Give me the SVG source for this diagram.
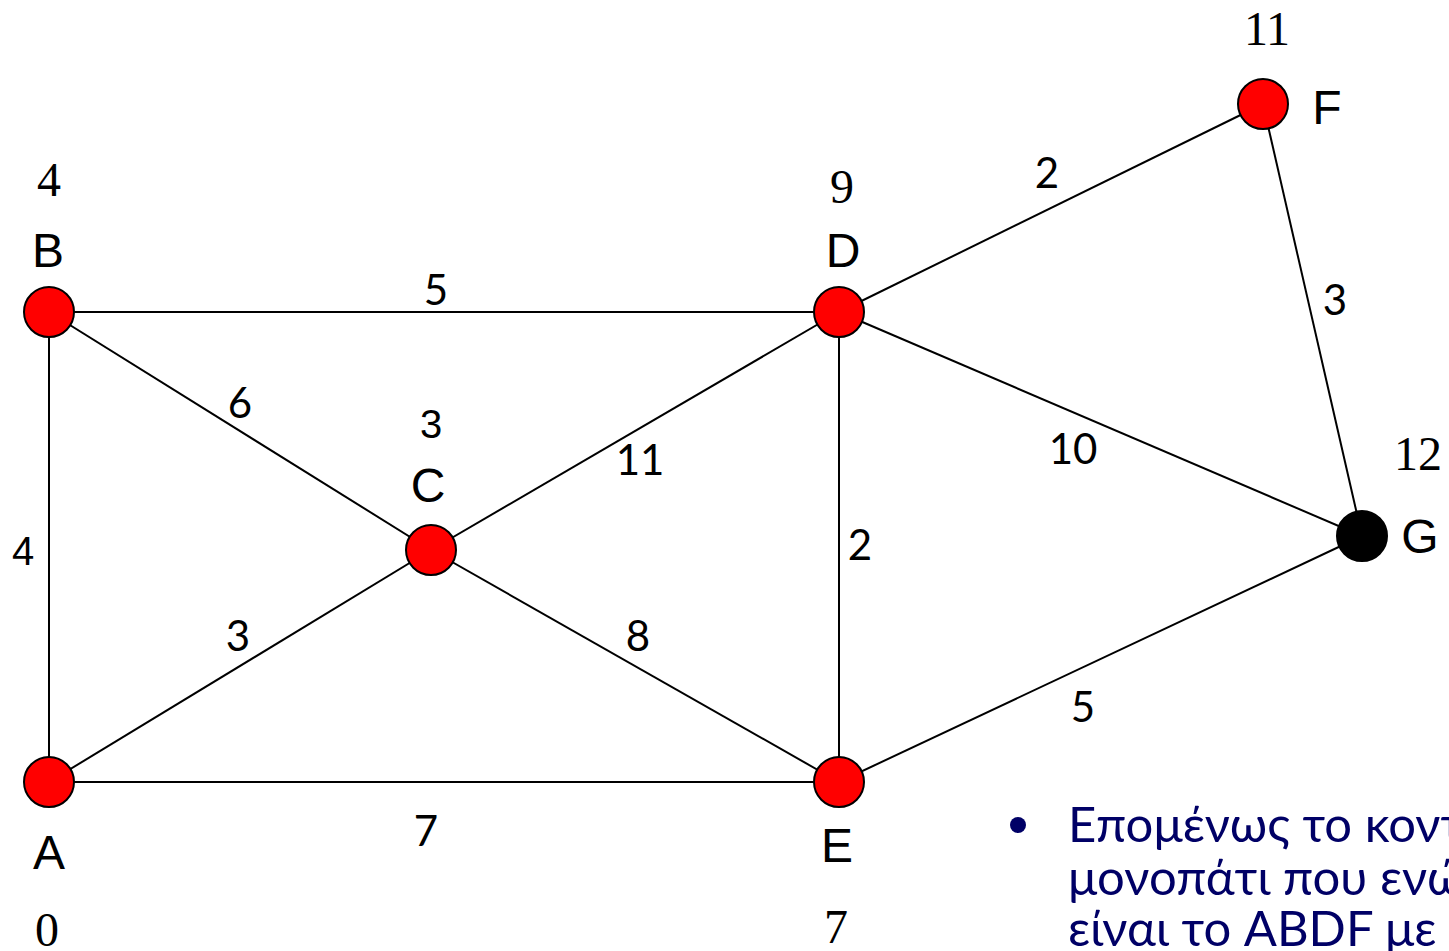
<svg xmlns="http://www.w3.org/2000/svg" width="1449" height="951" viewBox="0 0 1449 951">
<style>
.edge{stroke:#000;stroke-width:2;fill:none}
.node{fill:#ff0000;stroke:#000;stroke-width:2}
.goal{fill:#000;stroke:#000;stroke-width:2}
.name{font-family:"Liberation Sans",Arial,sans-serif;font-size:48px;text-anchor:middle;fill:#000}
.dist{font-family:"Liberation Serif","Times New Roman",serif;font-size:48px;text-anchor:middle;fill:#000}
.w{font-family:Lato,"Open Sans",sans-serif;font-size:42px;text-anchor:middle;fill:#000}
.wa{font-family:"Liberation Sans",Arial,sans-serif;font-size:40px;text-anchor:middle;fill:#000}
.note{font-family:Lato,"Open Sans","Noto Sans",sans-serif;font-size:49px;fill:#000066}
</style>
<rect width="1449" height="951" fill="#fff"/>
<g id="connectors">
<line class="edge" x1="49" y1="312" x2="839" y2="312"/>
<line class="edge" x1="49" y1="312" x2="49" y2="782"/>
<line class="edge" x1="49" y1="312" x2="431" y2="550"/>
<line class="edge" x1="49" y1="782" x2="431" y2="550"/>
<line class="edge" x1="49" y1="782" x2="839" y2="782"/>
<line class="edge" x1="431" y1="550" x2="839" y2="312"/>
<line class="edge" x1="431" y1="550" x2="839" y2="782"/>
<line class="edge" x1="839" y1="312" x2="839" y2="782"/>
<line class="edge" x1="839" y1="312" x2="1263" y2="104"/>
<line class="edge" x1="839" y1="312" x2="1362" y2="536"/>
<line class="edge" x1="1263" y1="104" x2="1362" y2="536"/>
<line class="edge" x1="839" y1="782" x2="1362" y2="536"/>
<text class="w" x="436" y="305">5</text>
<text class="w" x="240" y="418">6</text>
<text class="wa" x="23" y="565">4</text>
<text class="w" x="640" y="475">11</text>
<text class="w" x="1047" y="188">2</text>
<text class="w" x="1335" y="315">3</text>
<text class="w" x="1073" y="464">10</text>
<text class="w" x="860" y="560">2</text>
<text class="w" x="238" y="651">3</text>
<text class="w" x="638" y="651">8</text>
<text class="w" x="1083" y="722">5</text>
<text class="w" x="426" y="846">7</text>
</g>
<g id="node-A">
<circle class="node" cx="49" cy="782" r="25"/>
<text class="name" x="49" y="869">A</text>
<text class="dist" x="47" y="946">0</text>
</g>
<g id="node-B">
<circle class="node" cx="49" cy="312" r="25"/>
<text class="name" x="48" y="267">B</text>
<text class="dist" x="49" y="196">4</text>
</g>
<g id="node-C">
<circle class="node" cx="431" cy="550" r="25"/>
<text class="name" x="428" y="502">C</text>
<text class="wa" x="431" y="438">3</text>
</g>
<g id="node-D">
<circle class="node" cx="839" cy="312" r="25"/>
<text class="name" x="843" y="267">D</text>
<text class="dist" x="842" y="203">9</text>
</g>
<g id="node-E">
<circle class="node" cx="839" cy="782" r="25"/>
<text class="name" x="837" y="862">E</text>
<text class="dist" x="836" y="943">7</text>
</g>
<g id="node-F">
<circle class="node" cx="1263" cy="104" r="25"/>
<text class="name" x="1327" y="124">F</text>
<text class="dist" x="1267" y="45">11</text>
</g>
<g id="node-G">
<circle class="goal" cx="1362" cy="536" r="25"/>
<text class="name" x="1420" y="553">G</text>
<text class="dist" x="1418" y="470">12</text>
</g>
<g id="note">
<circle cx="1018" cy="825" r="8" fill="#000066"/>
<text class="note" x="1068" y="842">Επομένως το κοντινότερο</text>
<text class="note" x="1068" y="895">μονοπάτι που ενώνει</text>
<text class="note" x="1068" y="946">είναι το ABDF με</text>
</g>
</svg>
